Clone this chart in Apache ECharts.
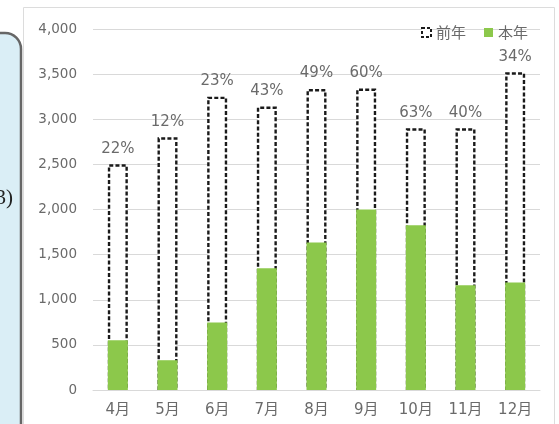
<!DOCTYPE html>
<html>
<head>
<meta charset="utf-8">
<script src="https://cdn.jsdelivr.net/npm/echarts@6/dist/echarts.min.js"></script>
<style>
  html, body { margin: 0; padding: 0; background: #ffffff; }
  #chart { width: 559px; height: 424px; }
</style>
</head>
<body>
<div id="chart"></div>
<script>
// Monthly figures: last year vs this year, with this year's ratio labels
const months = ['4月', '5月', '6月', '7月', '8月', '9月', '10月', '11月', '12月'];
const lastYear = [2500, 2800, 3250, 3140, 3335, 3340, 2900, 2900, 3520];
const thisYear = [550, 330, 747, 1350, 1635, 2000, 1825, 1160, 1190];
const ratioLabels = ['22%', '12%', '23%', '43%', '49%', '60%', '63%', '40%', '34%'];
const yTicks = [0, 500, 1000, 1500, 2000, 2500, 3000, 3500, 4000];

const font = '"DejaVu Sans", "Noto Sans CJK JP", sans-serif';
const textGray = '#6a6a6a';
const gridGray = '#d9d9d9';
const green = '#8cc84b';
const dashStyle = { color: '#ffffff', borderColor: '#1a1a1a', borderWidth: 2.4, borderType: [4, 2.2] };

const chart = echarts.init(document.getElementById('chart'), null, { renderer: 'canvas' });

chart.setOption({
  animation: false,
  backgroundColor: '#ffffff',
  textStyle: { fontFamily: font },
  graphic: [
    // chart frame
    {
      type: 'rect', z: -10,
      shape: { x: 23.5, y: 7.5, width: 531, height: 430 },
      style: { fill: '#ffffff', stroke: '#dcdcdc', lineWidth: 1 }
    },
    // neighbouring callout box at the left edge
    {
      type: 'rect', z: -5,
      shape: { x: -40, y: 33, width: 61, height: 420, r: [0, 16, 0, 0] },
      style: { fill: '#daeef6', stroke: '#666666', lineWidth: 2.5 }
    },
    {
      type: 'text', z: -4,
      style: {
        x: 13, y: 198, text: '3)', align: 'right', verticalAlign: 'middle',
        fontFamily: '"Liberation Serif", "DejaVu Serif", serif', fontSize: 21, fill: '#222222'
      }
    }
  ],
  legend: {
    right: 26, top: 20,
    itemWidth: 9, itemHeight: 9, itemGap: 18,
    textStyle: { color: textGray, fontSize: 15, fontFamily: '"Noto Sans CJK JP", sans-serif' },
    data: [
      { name: '前年', icon: 'rect', itemStyle: Object.assign({}, dashStyle, { borderWidth: 2, borderType: [3, 2] }) },
      { name: '本年', icon: 'rect' }
    ]
  },
  grid: { left: 93, right: 19, top: 29, bottom: 34 },
  xAxis: {
    type: 'category',
    data: months,
    axisLine: { lineStyle: { color: gridGray, width: 1 } },
    axisTick: { show: false },
    axisLabel: { color: textGray, fontSize: 15, margin: 13, fontFamily: font }
  },
  yAxis: {
    type: 'value',
    min: yTicks[0],
    max: yTicks[yTicks.length - 1],
    interval: yTicks[1] - yTicks[0],
    axisLine: { show: false },
    axisTick: { show: false },
    splitLine: { lineStyle: { color: gridGray, width: 1 } },
    axisLabel: {
      color: textGray, fontSize: 13.5, margin: 16, fontFamily: font,
      formatter: v => v.toLocaleString('en-US')
    }
  },
  series: [
    {
      name: '前年',
      type: 'bar',
      data: lastYear,
      barWidth: 20,
      barGap: '-100%',
      itemStyle: dashStyle,
      label: {
        show: true, position: 'top', distance: 8,
        color: textGray, fontSize: 15, fontFamily: font,
        formatter: p => ratioLabels[p.dataIndex]
      }
    },
    {
      name: '本年',
      type: 'bar',
      data: thisYear,
      barWidth: 20,
      itemStyle: { color: green }
    }
  ]
});
</script>
</body>
</html>
